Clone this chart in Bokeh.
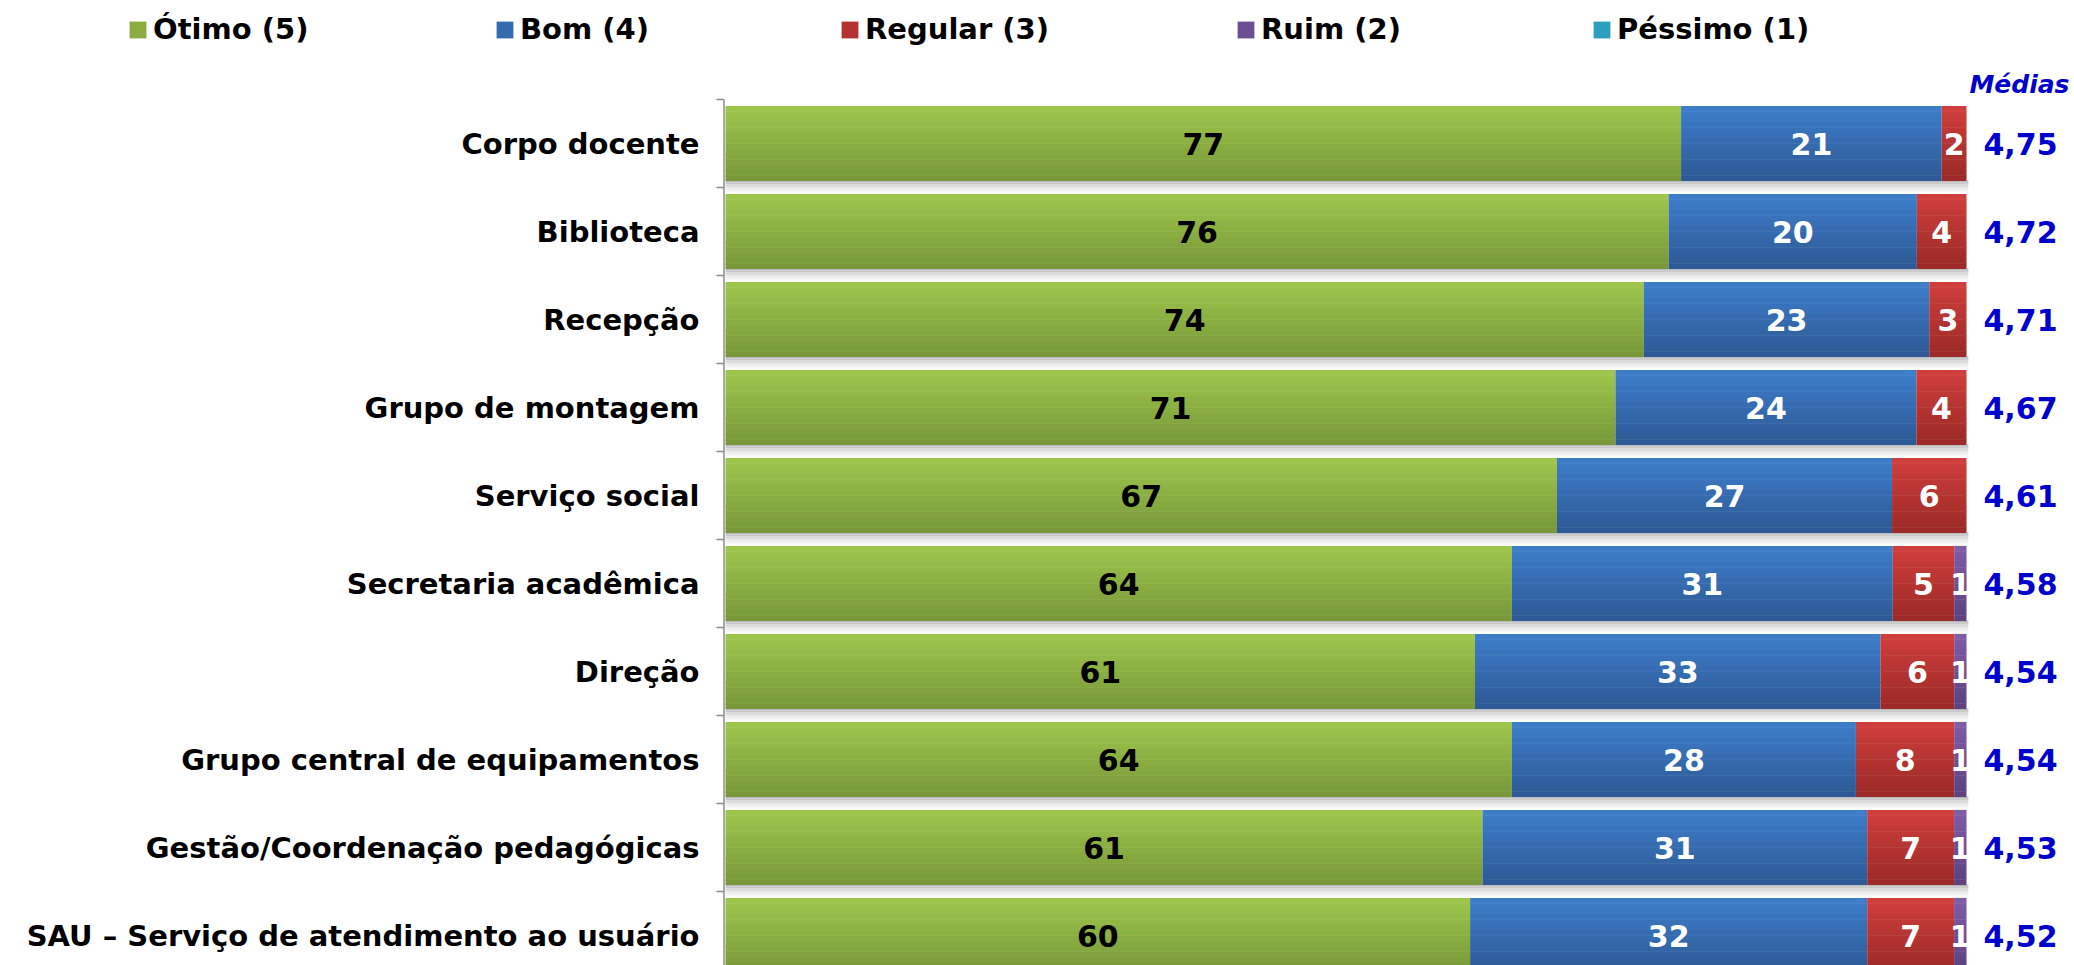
import numpy as np
from bokeh.plotting import figure
from bokeh.models import ColumnDataSource, Range1d, Legend, LegendItem, Label
from bokeh.core.properties import value
from bokeh.embed import file_html
from bokeh.resources import INLINE

# ---------------- data ----------------
categories = ["Corpo docente", "Biblioteca", "Recepção", "Grupo de montagem", "Serviço social",
              "Secretaria acadêmica", "Direção", "Grupo central de equipamentos",
              "Gestão/Coordenação pedagógicas", "SAU – Serviço de atendimento ao usuário"]
otimo = [77, 76, 74, 71, 67, 64, 61, 64, 61, 60]
bom = [21, 20, 23, 24, 27, 31, 33, 28, 31, 32]
regular = [2, 4, 3, 4, 6, 5, 6, 8, 7, 7]
ruim = [0, 0, 0, 0, 0, 1, 1, 1, 1, 1]
pessimo = [0, 0, 0, 0, 0, 0, 0, 0, 0, 0]
medias = [4.75, 4.72, 4.71, 4.67, 4.61, 4.58, 4.54, 4.54, 4.53, 4.52]
series_names = ["Ótimo (5)", "Bom (4)", "Regular (3)", "Ruim (2)", "Péssimo (1)"]
medias_title = "Médias"

# ---------------- style ----------------
FONT = "DejaVu Sans"
grad = [((158, 198, 76), (120, 152, 57)),   # green
        ((61, 125, 202), (45, 90, 150)),    # blue
        ((207, 62, 59), (156, 42, 40)),     # red
        ((126, 92, 168), (92, 66, 128)),    # purple
        ((56, 182, 214), (34, 140, 170))]   # cyan
label_colors = ["black", "white", "white", "white", "white"]
legend_x = [127, 494, 839, 1235, 1591]

def lerp(c1, c2, t):
    return "#%02x%02x%02x" % tuple(int(round(a + (b - a) * t)) for a, b in zip(c1, c2))

n = len(categories)
ypos = np.arange(n, dtype=float)
series = [np.array(s, dtype=float) for s in [otimo, bom, regular, ruim, pessimo]]
totals = np.sum(series, axis=0)
pct = [s / totals * 100.0 for s in series]
lefts = [np.zeros(n)]
for s in pct[:-1]:
    lefts.append(lefts[-1] + s)

# ---------------- geometry (pixels) ----------------
W, H = 2074, 965
ZERO_PX = 725          # where bars start
FULL_PX = 1966         # where 100 % ends
ROW_TOP_PX = 99        # top of first category band
PX_PER_ROW = 88.0
ppu = (FULL_PX - ZERO_PX) / 100.0
x_start = -ZERO_PX / ppu
x_end = (W - ZERO_PX) / ppu
y_top = -0.5 - ROW_TOP_PX / PX_PER_ROW
y_bottom = -0.5 + (H - ROW_TOP_PX) / PX_PER_ROW

def px_to_x(px):
    return (px - ZERO_PX) / ppu

p = figure(width=W, height=H, output_backend="svg", toolbar_location=None,
           x_range=Range1d(x_start, x_end), y_range=Range1d(y_bottom, y_top),
           x_axis_location=None, y_axis_location=None,
           min_border_left=0, min_border_right=0, min_border_top=0, min_border_bottom=0)
p.outline_line_color = None
p.xgrid.visible = False
p.ygrid.visible = False
p.background_fill_color = "white"

BAR_H = 0.85
NS = 14

# soft shadow under each bar
shadow_cols = ["#bdbdbd", "#cacaca", "#d6d6d6", "#e2e2e2", "#ececec", "#f5f5f5"]
sh_h = 11.0 / PX_PER_ROW / len(shadow_cols)
row_total = lefts[-1] + pct[-1]
for k, c in enumerate(shadow_cols):
    p.hbar(y=ypos + BAR_H / 2 + (k + 0.5) * sh_h, left=0, right=row_total + 0.15,
           height=sh_h * 1.05, fill_color=c, line_color=None)

# gradient-filled stacked bars
legend_renderers = []
for j in range(len(series)):
    c_top, c_bot = grad[j]
    strips = []
    for k in range(NS):
        col = lerp(c_top, c_bot, k / (NS - 1))
        yy = ypos - BAR_H / 2 + (k + 0.5) * BAR_H / NS
        r = p.hbar(y=yy, left=lefts[j], right=lefts[j] + pct[j], height=BAR_H / NS * 1.08,
                   fill_color=col, line_color=None)
        strips.append(r)
    legend_renderers.append(strips[NS // 2])

# value labels inside segments
for j in range(len(series)):
    mask = series[j] > 0
    src = ColumnDataSource(dict(x=(lefts[j] + pct[j] / 2)[mask], y=ypos[mask],
                                t=[str(int(v)) for v in series[j][mask]]))
    p.text(x="x", y="y", text="t", source=src, text_font=value(FONT), text_font_style="bold",
           text_font_size=value("30px"), text_align="center", text_baseline="middle",
           text_color=label_colors[j])

# médias column
msrc = ColumnDataSource(dict(x=np.full(n, px_to_x(1983)), y=ypos,
                             t=[f"{m:.2f}".replace(".", ",") for m in medias]))
p.text(x="x", y="y", text="t", source=msrc, text_font=value(FONT), text_font_style="bold",
       text_font_size=value("30px"), text_align="left", text_baseline="middle",
       text_color="#0000CC")
p.add_layout(Label(x=W - 5, y=H - 84, x_units="screen", y_units="screen", text=medias_title,
                   text_font=FONT, text_font_style="bold italic", text_font_size="25px",
                   text_color="#0000CC", text_align="right", text_baseline="middle"))

# category axis: labels, axis line and boundary ticks
csrc = ColumnDataSource(dict(x=np.full(n, px_to_x(699)), y=ypos, t=categories))
p.text(x="x", y="y", text="t", source=csrc, text_font=value(FONT), text_font_style="bold",
       text_font_size=value("29px"), text_align="right", text_baseline="middle",
       text_color="black")
axis_x = px_to_x(723.5)
p.segment(x0=[axis_x], y0=[-0.5], x1=[axis_x], y1=[y_bottom], line_color="#8c8c8c",
          line_width=1.5)
bounds = np.arange(n + 1) - 0.5
p.segment(x0=np.full(n + 1, px_to_x(716)), y0=bounds, x1=np.full(n + 1, axis_x), y1=bounds,
          line_color="#8c8c8c", line_width=1.5)

# legend entries
for j, name in enumerate(series_names):
    lg = Legend(items=[LegendItem(label=name, renderers=[legend_renderers[j]])],
                location=(legend_x[j], H - 46),
                orientation="horizontal", border_line_color=None, background_fill_alpha=0,
                padding=0, margin=0, glyph_width=21, glyph_height=21, label_standoff=5,
                label_text_font=FONT, label_text_font_style="bold",
                label_text_font_size="29px", label_text_color="black")
    p.add_layout(lg)

open("out.html", "w").write(file_html(p, INLINE))
